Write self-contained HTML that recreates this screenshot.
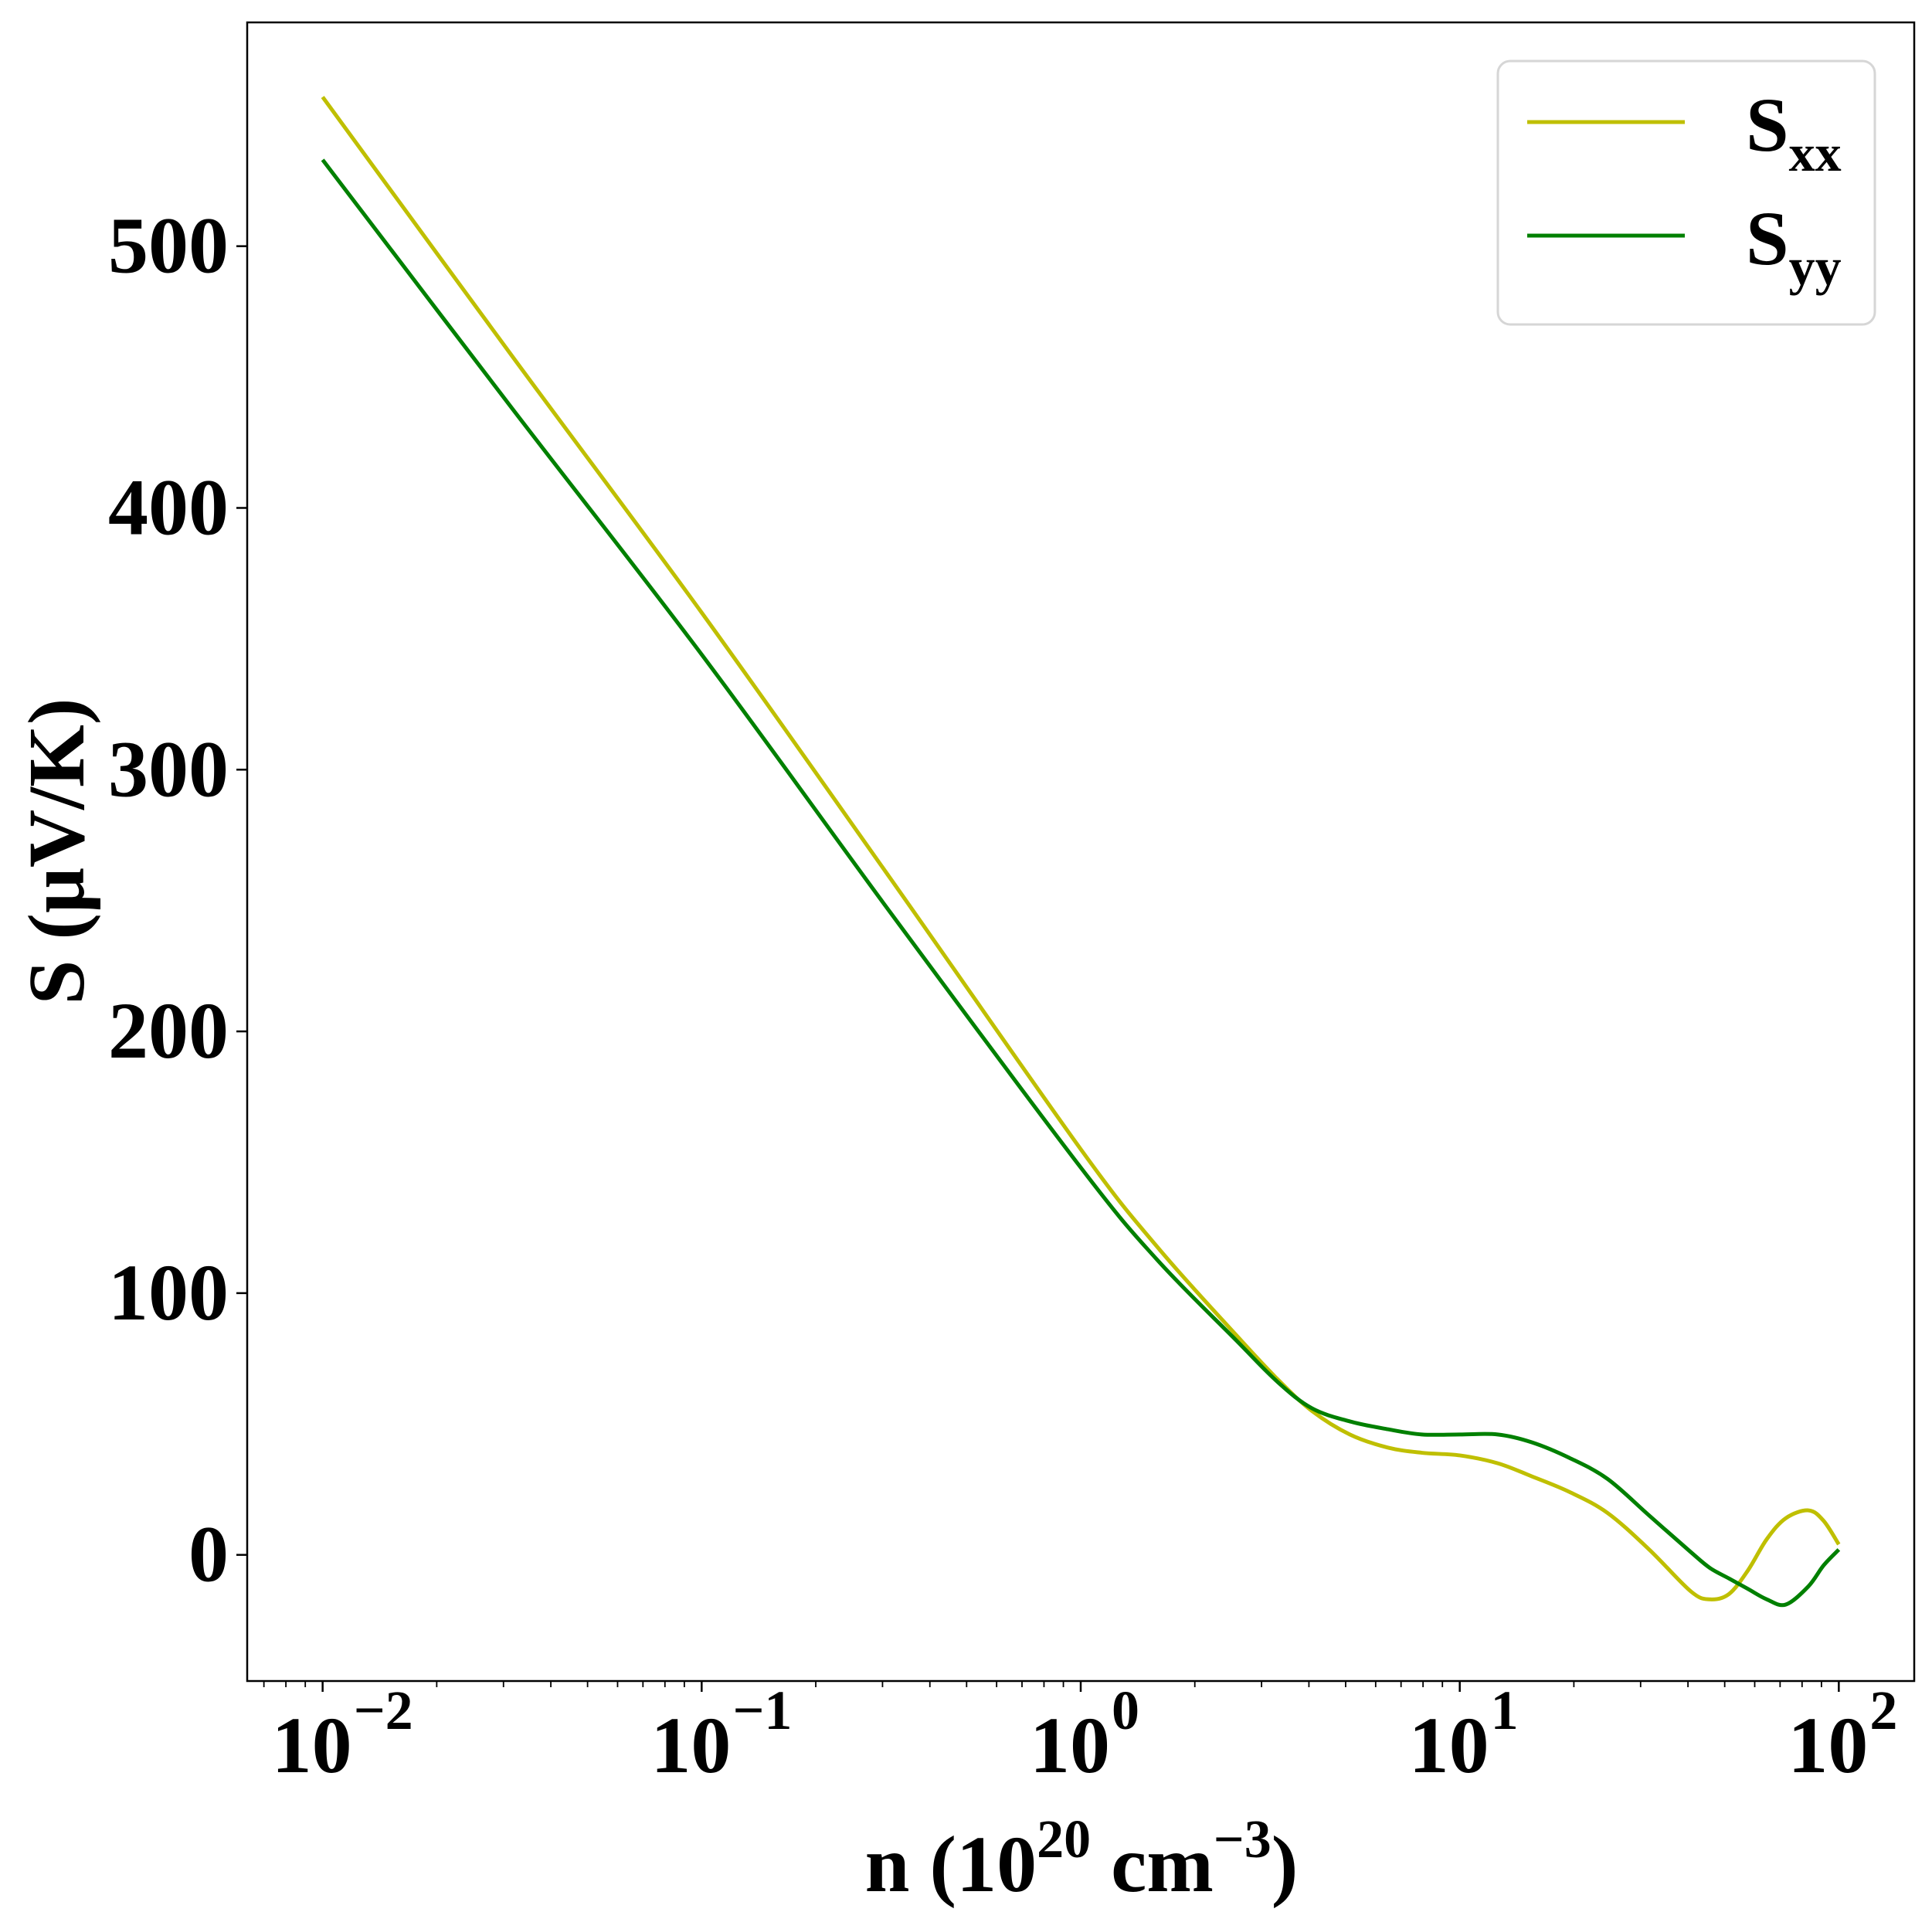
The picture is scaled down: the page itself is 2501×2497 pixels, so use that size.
<!DOCTYPE html>
<html><head><meta charset="utf-8"><style>
html,body{margin:0;padding:0;background:#fff}
svg text{font-family:"Liberation Serif",serif;font-weight:bold;fill:#000}
</style></head><body>
<svg id="chart" width="2501" height="2492" viewBox="0 0 2501 2492" xmlns="http://www.w3.org/2000/svg">
<rect x="0" y="0" width="2501" height="2492" fill="#fff"/>
<g id="plot"></g>
</svg>
<script>
const logN = [-2, -1.5, -1, -0.5, 0, 0.2, 0.41, 0.52, 0.61, 0.71, 0.81, 0.9, 1.0, 1.1, 1.19, 1.29, 1.39, 1.5, 1.61, 1.66, 1.71, 1.76, 1.81, 1.86, 1.92, 1.96, 2.0];
const sxx = [557, 458, 360, 258, 155, 118, 84, 67, 55, 46, 41, 39, 38, 35, 30, 24, 16, 2, -14, -17, -15, -6, 6, 14, 17, 13, 4];
const syy = [533, 438, 344, 245, 148, 113, 82, 66, 56, 51, 48, 46, 46, 46, 43, 37, 29, 15, 1, -5, -9, -13, -17, -19, -12, -4, 2];
const yTicks = [0, 100, 200, 300, 400, 500];
const xTicks = [-2, -1, 0, 1, 2];
const xTickSup = ["\u22122", "\u22121", "0", "1", "2"];

const L = 320, R = 2478, T = 29, B = 2176;
const xMin = -2.199, xMax = 2.199, yMin = -48.2, yMax = 585.5;
const xs = v => L + (v - xMin) / (xMax - xMin) * (R - L);
const ys = v => B - (v - yMin) / (yMax - yMin) * (B - T);
const NS = "http://www.w3.org/2000/svg";
const g = document.getElementById('plot');
function mk(tag, attrs, parent) {
  const e = document.createElementNS(NS, tag);
  for (const k in attrs) e.setAttribute(k, attrs[k]);
  (parent || g).appendChild(e);
  return e;
}
function smoothPath(xv, yv) {
  const p = xv.map((x, i) => [xs(x), ys(yv[i])]);
  let d = `M${p[0][0]},${p[0][1]}`;
  for (let i = 0; i < p.length - 1; i++) {
    const p0 = p[Math.max(0, i - 1)], p1 = p[i], p2 = p[i + 1], p3 = p[Math.min(p.length - 1, i + 2)];
    const c1 = [p1[0] + (p2[0] - p0[0]) / 6, p1[1] + (p2[1] - p0[1]) / 6];
    const c2 = [p2[0] - (p3[0] - p1[0]) / 6, p2[1] - (p3[1] - p1[1]) / 6];
    d += ` C${c1[0]},${c1[1]} ${c2[0]},${c2[1]} ${p2[0]},${p2[1]}`;
  }
  return d;
}
const lx = mk('path', {d: smoothPath(logN, sxx), fill: 'none', stroke: '#bfbf00', 'stroke-width': 5});


const ly = mk('path', {d: smoothPath(logN, syy), fill: 'none', stroke: '#008000', 'stroke-width': 5});


const fr = mk('rect', {x: L, y: T, width: R - L, height: B - T, fill: 'none', stroke: '#000', 'stroke-width': 2.5});


yTicks.forEach(v => {
  const y = ys(v);
  mk('line', {x1: L - 14, x2: L, y1: y, y2: y, stroke: '#000', 'stroke-width': 2.5});
  const t = mk('text', {x: 296, y: y + 34, 'text-anchor': 'end', 'font-size': 104});
  t.textContent = v;
  
  
});
xTicks.forEach((v, i) => {
  const x = xs(v);
  mk('line', {x1: x, x2: x, y1: B, y2: B + 14, stroke: '#000', 'stroke-width': 2.5});
  const t = mk('text', {x: x - 14, y: 2294, 'text-anchor': 'middle', 'font-size': 104});
  t.textContent = '10';
  
  
  const s = mk('text', {x: x + 40, y: 2238, 'text-anchor': 'start', 'font-size': 72});
  s.textContent = xTickSup[i];
  
  
});
for (let d = -3; d <= 2; d++) for (let m = 2; m <= 9; m++) {
  const v = d + Math.log10(m);
  if (v < xMin || v > xMax) continue;
  const x = xs(v);
  mk('line', {x1: x, x2: x, y1: B, y2: B + 8, stroke: '#000', 'stroke-width': 1.8});
}
const xt = mk('text', {x: 1400, y: 2448, 'text-anchor': 'middle', 'font-size': 104});
xt.innerHTML = 'n (10<tspan dy="-44" font-size="70">20</tspan><tspan dy="44"> cm</tspan><tspan dy="-44" font-size="70">\u22123</tspan><tspan dy="44">)</tspan>';


const yt = mk('text', {x: 0, y: 0, 'text-anchor': 'middle', 'font-size': 104, transform: 'translate(108,1102) rotate(-90)'});
yt.textContent = 'S (\u03bcV/K)';


const lg = mk('g', {});


mk('rect', {x: 1939, y: 79, width: 488, height: 341, rx: 16, fill: '#fff', stroke: '#d6d6d6', 'stroke-width': 3}, lg);
const names = [['S', 'xx', '#bfbf00', 158], ['S', 'yy', '#008000', 305]];
names.forEach(n => {
  const e = mk('g', {}, lg);
  
  
  mk('line', {x1: 1977, x2: 2181, y1: n[3], y2: n[3], stroke: n[2], 'stroke-width': 5}, e);
  const t = mk('text', {x: 2260, y: n[3] + 37, 'font-size': 100}, e);
  t.innerHTML = n[0] + '<tspan dy="26" font-size="68">' + n[1] + '</tspan>';
});
</script>
</body></html>
